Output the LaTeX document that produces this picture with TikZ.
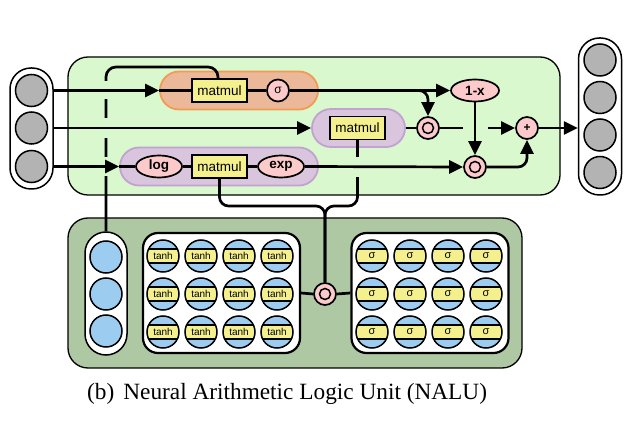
\documentclass[tikz,border=0pt]{standalone}
\usepackage{fontspec}
\setmainfont{Liberation Serif}
\setsansfont{Liberation Sans}
\usetikzlibrary{arrows.meta,shapes.geometric}
\definecolor{lightgreen}{HTML}{D9F8CD}
\definecolor{darkgreen}{HTML}{ADC8A2}
\definecolor{orangefill}{HTML}{EBB899}
\definecolor{orangeline}{HTML}{F39A55}
\definecolor{purplefill}{HTML}{D9C6DE}
\definecolor{purpleline}{HTML}{C2A2CF}
\definecolor{boxyellow}{HTML}{F5F08E}
\definecolor{pinkfill}{HTML}{FCCACA}
\definecolor{neurongray}{HTML}{B3B3B3}
\definecolor{neuronblue}{HTML}{9CCCF0}
\tikzset{
    every node/.style={inner sep=0pt, font=\sffamily},
    wire/.style={line width=2.7pt},
    arrow/.style={wire, -{Triangle[length=14pt,width=13pt]}}
}
\tikzset{
    neuron/.style={circle, draw, line width=1.5pt, minimum size=32pt},
    column/.style={rectangle, draw, line width=1.5pt, fill=white,
    	minimum width=43pt, rounded corners=21pt},
    gridbox/.style={rectangle, draw, line width=2.2pt, fill=white,
    	minimum width=157pt, minimum height=120pt, rounded corners=15pt},
    pill/.style={rectangle, line width=1.8pt, minimum height=38pt,
    	rounded corners=19pt},
    matmulbox/.style={rectangle, draw, line width=1.5pt, fill=boxyellow,
    	minimum width=55pt, minimum height=23pt, font=\fontsize{13.5}{13.5}\sffamily},
    fn/.style={ellipse, draw, line width=1.7pt, fill=pinkfill, minimum width=46pt,
    	minimum height=22pt, font=\fontsize{13.5}{13.5}\sffamily\bfseries},
    op/.style={circle, draw, line width=1.7pt, fill=pinkfill, minimum size=22pt,
    	font=\fontsize{12}{12}\sffamily},
    odot/.style={op, path picture={
    	\draw[line width=1.5pt] (path picture bounding box.center) circle (5.5pt);
    	\fill (path picture bounding box.center) circle (2pt);}},
    bandunit/.style={neuron, fill=neuronblue, path picture={
    	\fill[boxyellow] ([yshift=-7pt]path picture bounding box.west)
    		rectangle ([yshift=7pt]path picture bounding box.east);
    	\draw[line width=1.3pt] ([yshift=-7pt]path picture bounding box.west)
    		-- ([yshift=-7pt]path picture bounding box.east)
    		([yshift=7pt]path picture bounding box.west)
    		-- ([yshift=7pt]path picture bounding box.east);}}
}
\begin{document}
\begin{tikzpicture}[x=1pt, y=-1pt]
  \useasboundingbox (0,0) rectangle (635,430);
  \draw[line width=1.3pt, fill=lightgreen, rounded corners=20pt] (68,57) rectangle (560,195);
  \draw[line width=1.3pt, fill=darkgreen, rounded corners=20pt] (68,218) rectangle (522,368);

  % input and output layers
  \node (inpill) [column, minimum height=121pt] at (31.5,128.5) {};
  \node (in1) [neuron, fill=neurongray] at (31.5,90.5) {};
  \node (in2) [neuron, fill=neurongray] at (31.5,128) {};
  \node (in3) [neuron, fill=neurongray] at (31.5,166.5) {};
  \node (outpill) [column, minimum height=157pt] at (600,116.5) {};
  \node (out1) [neuron, fill=neurongray] at (600,60) {};
  \node (out2) [neuron, fill=neurongray] at (600,97.5) {};
  \node (out3) [neuron, fill=neurongray] at (600,135) {};
  \node (out4) [neuron, fill=neurongray] at (600,172.5) {};

  % upper cell
  \node (p1) [pill, fill=orangefill, draw=orangeline, minimum width=158pt] at (239,90.5) {};
  \node (p2) [pill, fill=purplefill, draw=purpleline, minimum width=93pt] at (358.5,128) {};
  \node (p3) [pill, fill=purplefill, draw=purpleline, minimum width=198pt] at (219,166.5) {};
  \node (m1) [matmulbox] at (219.5,90.5) {matmul};
  \node (s1) [op] at (278,90.5) {σ};
  \node (m2) [matmulbox] at (357.5,128) {matmul};
  \node (log) [fn] at (159,166.5) {log};
  \node (m3) [matmulbox] at (219.5,166.5) {matmul};
  \node (exp) [fn] at (281,166.5) {exp};
  \node (od1) [odot] at (428,128) {};
  \node (onex) [fn, minimum width=48pt] at (475,90.5) {1-x};
  \node (od2) [odot] at (475,167) {};
  \node (plus) [op, font=\fontsize{12}{12}\sffamily\bfseries] at (527,128) {+};

  % lower cell
  \node (bpill) [column, minimum width=42pt, minimum height=123pt] at (106,293.5) {};
  \node (b1) [neuron, fill=neuronblue] at (106,257) {};
  \node (b2) [neuron, fill=neuronblue] at (106,294) {};
  \node (b3) [neuron, fill=neuronblue] at (106,331) {};
  \node (tanhbox) [gridbox] at (221.5,293) {};
  \node (sigbox) [gridbox] at (430,293) {};
  \foreach \x in {163,201,239,277}
    \foreach \y in {256,294,332}
      \node (t\x\y) [bandunit, font=\fontsize{10}{10}\sffamily] at (\x,\y) {tanh};
  \foreach \x in {372,410,448,486}
    \foreach \y in {256,294,332}
      \node (g\x\y) [bandunit, font=\fontsize{11}{11}\sffamily] at (\x,\y) {σ};
  \node (od3) [odot] at (325,294) {};

  % gate wire with hops
  \coordinate (c1) at (106,67);
  \coordinate (c2) at (218,67);
  \draw[wire, rounded corners=10pt] (bpill.north) -- (c1) -- (c2) -- (c2 |- m1.north);
  \fill[lightgreen] (102,81) rectangle (110,99);
  \fill[lightgreen] (102,118) rectangle (110,138);
  \fill[lightgreen] (102,157) rectangle (110,176);

  \draw[arrow] (in1 -| inpill.east) -- (p1.west);
  \draw[wire] (p1.west) -- (m1.west);
  \draw[wire] (m1.east) -- (s1.west);
  \draw[arrow] (s1.east) -- (onex.west);
  \coordinate (br) at (414,90.5);
  \draw[arrow, rounded corners=9pt] (br) -| (od1.north);

  \draw[arrow] (in2 -| inpill.east) -- (p2.west);
  \draw[wire] (p2.east) -- (od1.west);
  \draw[arrow] (od1.east) -- (plus.west);
  \fill[lightgreen] (463,124) rectangle (488,132);
  \draw[arrow] (onex.south) -- (od2.north);

  \draw[arrow] (in3 -| inpill.east) -- (p3.west);
  \draw[wire] (p3.west) -- (log.west);
  \draw[wire] (log.east) -- (m3.west);
  \draw[wire] (m3.east) -- (exp.west);
  \draw[wire, rounded corners=9pt] (m2.south) -- (357.5,206) -- (325,206) -- (od3.north);
  \draw[wire, rounded corners=9pt] (m3.south) -- (219.5,206) -- (325,206) -- (od3.north);
  \fill[lightgreen] (353.5,157) rectangle (361.5,177);
  \draw[arrow] (exp.east) -- (od2.west);
  \draw[arrow, rounded corners=9pt] (od2.east) -| (plus.south);
  \draw[arrow] (plus.east) -- (plus -| outpill.west);

  \draw[wire] (tanhbox.east) -- (od3.west);
  \draw[wire] (od3.east) -- (sigbox.west);

  \node (cap) [anchor=base west, font=\fontsize{23.3}{23.3}\rmfamily] at (87,400)
    {(b)\hspace{9pt}Neural Arithmetic Logic Unit (NALU)};
\end{tikzpicture}
\end{document}
